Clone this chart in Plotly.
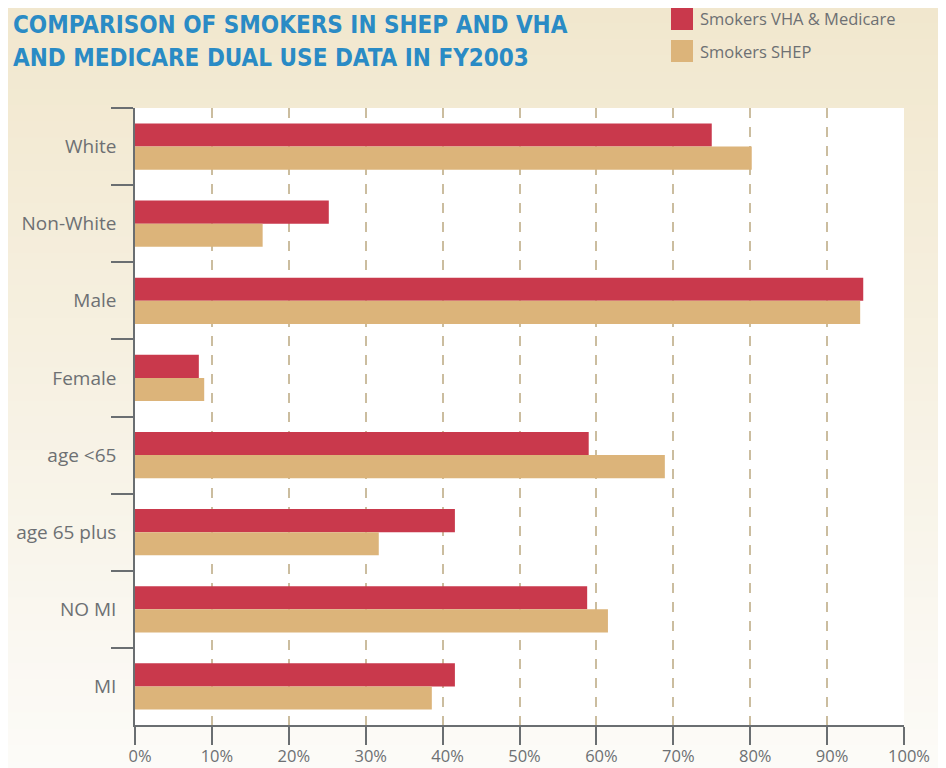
import plotly.graph_objects as go

categories = ["White", "Non-White", "Male", "Female", "age <65", "age 65 plus", "NO MI", "MI"]
vha_medicare = [75.0, 25.2, 94.7, 8.3, 59.0, 41.6, 58.8, 41.6]
shep = [80.2, 16.6, 94.3, 9.0, 68.9, 31.7, 61.5, 38.6]
x_ticks = [0, 10, 20, 30, 40, 50, 60, 70, 80, 90, 100]
x_tick_labels = [f"{v}%" for v in x_ticks]
series_names = ["Smokers VHA & Medicare", "Smokers SHEP"]
title_lines = ["COMPARISON OF SMOKERS IN SHEP AND VHA", "AND MEDICARE DUAL USE DATA IN FY2003"]
colors = ["#c9394c", "#dcb47a"]

GREY = "#6d7073"
AXIS = "#6a6e71"

# page offset of the plot div (body margin)
OFF = 8
W, H = 946 - OFF, 768 - OFF
L, T, R, B = 135 - OFF, 108 - OFF, 42, 43
PW = W - L - R   # plot width in px
PH = H - T - B   # plot height in px


def px_x(x):  # page x -> paper
    return (x - OFF - L) / PW


def px_y(y):  # page y -> paper
    return (H - B - (y - OFF)) / PH


fig = go.Figure()
fig.add_trace(go.Bar(y=categories, x=vha_medicare, orientation="h", name=series_names[0],
                     marker=dict(color=colors[0], line=dict(width=0)), showlegend=False))
fig.add_trace(go.Bar(y=categories, x=shep, orientation="h", name=series_names[1],
                     marker=dict(color=colors[1], line=dict(width=0)), showlegend=False))

shapes = []
# background vertical gradient
top = (241, 231, 205)
bot = (252, 251, 248)
N = 48
y_top = px_y(-10)
y_bot = px_y(778)
step = (y_top - y_bot) / N
for i in range(N):
    t = i / (N - 1)
    c = tuple(round(top[k] + (bot[k] - top[k]) * t) for k in range(3))
    shapes.append(dict(type="rect", xref="paper", yref="paper", layer="below",
                       x0=px_x(-20), x1=px_x(980),
                       y0=y_top - (i + 1) * step - 0.002, y1=y_top - i * step,
                       fillcolor="rgb(%d,%d,%d)" % c, line=dict(width=0)))
# white plot area
shapes.append(dict(type="rect", xref="x domain", yref="y domain", layer="below",
                   x0=0, x1=1, y0=0, y1=1, fillcolor="white", line=dict(width=0)))
# legend squares
legend_y = [19, 51]
for c, yy in zip(colors, legend_y):
    shapes.append(dict(type="rect", xref="paper", yref="paper", layer="above",
                       x0=px_x(671), x1=px_x(693),
                       y0=px_y(yy + 11), y1=px_y(yy - 11),
                       fillcolor=c, line=dict(width=0)))

annotations = []
for line, yy in zip(title_lines, [25, 58]):
    annotations.append(dict(text=line, xref="paper", yref="paper", x=px_x(11), y=px_y(yy),
                            xanchor="left", yanchor="middle", align="left", showarrow=False,
                            font=dict(family="DejaVu Sans Condensed", size=24, color="#2a8bc5",
                                      weight="bold")))
for name, yy in zip(series_names, legend_y):
    annotations.append(dict(text=name, xref="paper", yref="paper", x=px_x(698),
                            y=px_y(yy), xanchor="left", yanchor="middle",
                            showarrow=False, font=dict(family="Open Sans", size=16.5, color=GREY)))

fig.update_layout(
    width=W, height=H,
    margin=dict(l=L, r=R, t=T, b=B, autoexpand=False),
    paper_bgcolor="#f6f1e4",
    plot_bgcolor="rgba(0,0,0,0)",
    barmode="group", bargap=0.4, bargroupgap=0,
    shapes=shapes, annotations=annotations,
    font=dict(family="Open Sans", color=GREY),
    xaxis=dict(range=[0, 100], tickvals=x_ticks, ticktext=x_tick_labels, automargin=False,
               showgrid=True, gridcolor="#cbbd9f", gridwidth=1.5, griddash="10px,9px",
               zeroline=False, showline=True, linecolor=AXIS, linewidth=1.5,
               ticks="outside", ticklen=18, tickwidth=1.5, tickcolor=AXIS,
               tickfont=dict(size=16.5, color=GREY), ticklabelshift=5, ticklabelstandoff=-3,
               fixedrange=True),
    yaxis=dict(categoryorder="array", categoryarray=categories, autorange="reversed",
               automargin=False,
               showgrid=False, zeroline=False, showline=True, linecolor=AXIS, linewidth=1.5,
               ticks="outside", tickson="boundaries", ticklen=22, tickwidth=1.5, tickcolor=AXIS,
               tickfont=dict(size=19, color=GREY), ticklabelstandoff=13, fixedrange=True),
)

fig.write_html("out.html")
